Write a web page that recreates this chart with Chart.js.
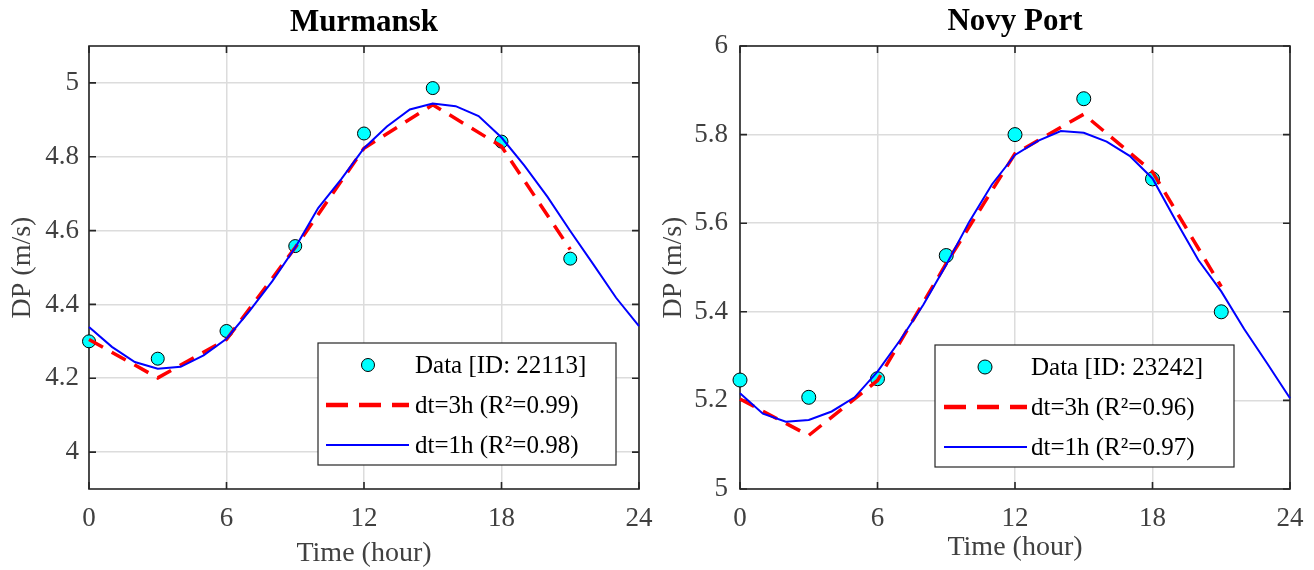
<!DOCTYPE html>
<html>
<head>
<meta charset="utf-8">
<script src="https://cdn.jsdelivr.net/npm/chart.js@4.4.0/dist/chart.umd.min.js"></script>
<style>
    body { margin: 0; background: #fff; width: 1314px; height: 570px; overflow: hidden; }
    .quadro { position: absolute; top: 0; width: 657px; height: 570px; }
</style>
</head>
<body>
<div class="quadro" style="left:0"><canvas id="graf1" width="657" height="570"></canvas></div>
<div class="quadro" style="left:657px"><canvas id="graf2" width="657" height="570"></canvas></div>
<script>
// horas (eixo x)
const hours3 = [0, 3, 6, 9, 12, 15, 18, 21];
const hours1 = [0, 1, 2, 3, 4, 5, 6, 7, 8, 9, 10, 11, 12, 13, 14, 15, 16, 17, 18, 19, 20, 21, 22, 23, 24];
const xTicks = [0, 6, 12, 18, 24];

// Murmansk
const murmanskData = [4.300, 4.253, 4.328, 4.558, 4.863, 4.986, 4.841, 4.524];
const murmansk3h = [4.305, 4.201, 4.305, 4.554, 4.823, 4.941, 4.828, 4.549];
const murmansk1h = [4.339, 4.285, 4.244, 4.226, 4.231, 4.262, 4.307, 4.382, 4.463, 4.554, 4.661, 4.739, 4.823,
                    4.882, 4.928, 4.944, 4.937, 4.910, 4.852, 4.776, 4.692, 4.599, 4.509, 4.418, 4.341];
const murmanskTicks = [4, 4.2, 4.4, 4.6, 4.8, 5];

// Novy Port
const novyData = [5.246, 5.207, 5.249, 5.527, 5.800, 5.881, 5.700, 5.400];
const novy3h = [5.203, 5.121, 5.245, 5.509, 5.757, 5.846, 5.716, 5.457];
const novy1h = [5.216, 5.170, 5.152, 5.156, 5.175, 5.207, 5.265, 5.337, 5.416, 5.506, 5.603, 5.688, 5.754,
                5.786, 5.808, 5.804, 5.784, 5.752, 5.701, 5.607, 5.517, 5.446, 5.361, 5.284, 5.205];
const novyTicks = [5, 5.2, 5.4, 5.6, 5.8, 6];

const SERIF = '"Liberation Serif", "Times New Roman", serif';

function pares(xs, ys) {
    return xs.map((x, i) => ({ x: x, y: ys[i] }));
}

// caixa dos eixos + marcas de escala para dentro (estilo MATLAB)
const moldura = {
    id: 'moldura',
    beforeDatasetsDraw(chart) {
        const { ctx, chartArea: a, scales } = chart;
        const len = 7;
        ctx.save();
        ctx.strokeStyle = '#262626';
        ctx.lineWidth = 1.6;
        ctx.strokeRect(a.left, a.top, a.right - a.left, a.bottom - a.top);
        ctx.beginPath();
        scales.y.ticks.forEach(t => {
            const y = scales.y.getPixelForValue(t.value);
            ctx.moveTo(a.left, y); ctx.lineTo(a.left + len, y);
            ctx.moveTo(a.right, y); ctx.lineTo(a.right - len, y);
        });
        scales.x.ticks.forEach(t => {
            const x = scales.x.getPixelForValue(t.value);
            ctx.moveTo(x, a.bottom); ctx.lineTo(x, a.bottom - len);
            ctx.moveTo(x, a.top); ctx.lineTo(x, a.top + len);
        });
        ctx.stroke();
        ctx.restore();
    }
};

// legenda dentro da área do gráfico
const legendaInterna = {
    id: 'legendaInterna',
    afterDatasetsDraw(chart, args, opts) {
        const { ctx, chartArea: a } = chart;
        const ds = chart.data.datasets;
        const left = a.right - opts.right - opts.width;
        const top = a.bottom - opts.bottom - opts.height;
        ctx.save();
        ctx.fillStyle = '#fff';
        ctx.fillRect(left, top, opts.width, opts.height);
        ctx.strokeStyle = '#262626';
        ctx.lineWidth = 1.2;
        ctx.strokeRect(left, top, opts.width, opts.height);
        ctx.font = '25px ' + SERIF;
        ctx.textBaseline = 'middle';
        ds.forEach((d, i) => {
            const y = top + opts.firstRow + i * opts.rowHeight;
            if (d.showLine) {
                ctx.beginPath();
                ctx.strokeStyle = d.borderColor;
                ctx.lineWidth = d.borderWidth + (d.borderDash ? 1 : 0);
                ctx.setLineDash(d.borderDash ? [22, 11] : []);
                ctx.moveTo(left + opts.lineStart, y);
                ctx.lineTo(left + opts.lineEnd, y);
                ctx.stroke();
                ctx.setLineDash([]);
            } else {
                ctx.beginPath();
                ctx.fillStyle = d.backgroundColor;
                ctx.strokeStyle = d.borderColor;
                ctx.lineWidth = 1;
                ctx.arc(left + opts.marker, y, d.pointRadius, 0, Math.PI * 2);
                ctx.fill();
                ctx.stroke();
            }
            ctx.fillStyle = '#000';
            ctx.fillText(d.label, left + opts.textX, y + 1);
        });
        ctx.restore();
    }
};

function grafico(canvasId, cfg) {
    const ctx = document.getElementById(canvasId).getContext('2d');
    const fonteEixo = { family: SERIF, size: 27 };
    const fonteTitulo = { family: SERIF, size: 28, lineHeight: 1.2 };

    const data = {
        datasets: [
            {
                label: cfg.dataLabel,
                data: pares(hours3, cfg.obs),
                showLine: false,
                pointRadius: cfg.markerRadius,
                pointHoverRadius: cfg.markerRadius,
                backgroundColor: '#00FFFF',
                borderColor: '#000000',
                borderWidth: 1,
                order: 3,
                clip: false
            },
            {
                label: cfg.label3h,
                data: pares(hours3, cfg.fit3h),
                showLine: true,
                pointRadius: 0,
                borderColor: '#FF0000',
                backgroundColor: '#FF0000',
                borderWidth: 3.5,
                borderDash: [16, 10],
                order: 2,
                clip: false
            },
            {
                label: cfg.label1h,
                data: pares(hours1, cfg.fit1h),
                showLine: true,
                pointRadius: 0,
                borderColor: '#0000FF',
                backgroundColor: '#0000FF',
                borderWidth: 2,
                order: 1,
                clip: false
            }
        ]
    };

    const config = {
        type: 'scatter',
        data: data,
        plugins: [moldura, legendaInterna],
        options: {
            responsive: false,
            animation: false,
            layout: { padding: { left: 0, right: cfg.padRight, top: 0, bottom: 0 } },
            plugins: {
                legend: { display: false },
                tooltip: { enabled: false },
                title: {
                    display: true,
                    text: cfg.title,
                    fullSize: false,
                    color: '#000',
                    font: { family: SERIF, size: 31, weight: 'bold', lineHeight: 1.2 },
                    padding: { top: cfg.titleTop, bottom: 46 - cfg.titleTop - 37.2 }
                },
                legendaInterna: cfg.legenda
            },
            scales: {
                x: {
                    type: 'linear',
                    min: 0,
                    max: 24,
                    afterBuildTicks: s => { s.ticks = xTicks.map(v => ({ value: v })); },
                    afterFit: s => {
                        s.height = 570 - cfg.bottom;
                        s.paddingLeft = 0;
                        s.paddingRight = 0;
                    },
                    grid: { color: '#dcdcdc', lineWidth: 1.5, drawTicks: false },
                    border: { display: false },
                    ticks: { padding: 14, color: '#404040', font: fonteEixo, maxRotation: 0 },
                    title: {
                        display: true,
                        text: 'Time (hour)',
                        color: '#404040',
                        font: fonteTitulo,
                        padding: { top: 0, bottom: cfg.xTitleBottom }
                    }
                },
                y: {
                    type: 'linear',
                    min: cfg.yMin,
                    max: cfg.yMax,
                    afterBuildTicks: s => { s.ticks = cfg.yTicks.map(v => ({ value: v })); },
                    afterFit: s => {
                        s.width = cfg.left;
                        s.paddingTop = 0;
                        s.paddingBottom = 0;
                    },
                    grid: { color: '#dcdcdc', lineWidth: 1.5, drawTicks: false },
                    border: { display: false },
                    ticks: {
                        padding: cfg.yTickPad,
                        color: '#404040',
                        font: fonteEixo,
                        callback: v => String(v)
                    },
                    title: {
                        display: true,
                        text: 'DP (m/s)',
                        color: '#404040',
                        font: fonteTitulo,
                        padding: { top: cfg.yTitlePad, bottom: 0 }
                    }
                }
            }
        }
    };

    new Chart(ctx, config);
}

grafico('graf1', {
    title: 'Murmansk',
    dataLabel: 'Data [ID: 22113]',
    label3h: 'dt=3h (R²=0.99)',
    label1h: 'dt=1h (R²=0.98)',
    obs: murmanskData,
    fit3h: murmansk3h,
    fit1h: murmansk1h,
    yTicks: murmanskTicks,
    yMin: 3.9,
    yMax: 5.1,
    markerRadius: 6.5,
    left: 89,
    padRight: 18,
    bottom: 489,
    titleTop: 4,
    yTickPad: 10,
    yTitlePad: 6,
    xTitleBottom: 0,
    legenda: { right: 23, bottom: 24, width: 298, height: 122, firstRow: 22, rowHeight: 40,
               lineStart: 8, lineEnd: 91, marker: 50, textX: 97 }
});

grafico('graf2', {
    title: 'Novy Port',
    dataLabel: 'Data [ID: 23242]',
    label3h: 'dt=3h (R²=0.96)',
    label1h: 'dt=1h (R²=0.97)',
    obs: novyData,
    fit3h: novy3h,
    fit1h: novy1h,
    yTicks: novyTicks,
    yMin: 5,
    yMax: 6,
    markerRadius: 7,
    left: 83,
    padRight: 24,
    bottom: 489,
    titleTop: 3,
    yTickPad: 12,
    yTitlePad: 0,
    xTitleBottom: 6,
    legenda: { right: 56, bottom: 22, width: 299, height: 122, firstRow: 22, rowHeight: 40,
               lineStart: 9, lineEnd: 92, marker: 50, textX: 96 }
});
</script>
</body>
</html>
